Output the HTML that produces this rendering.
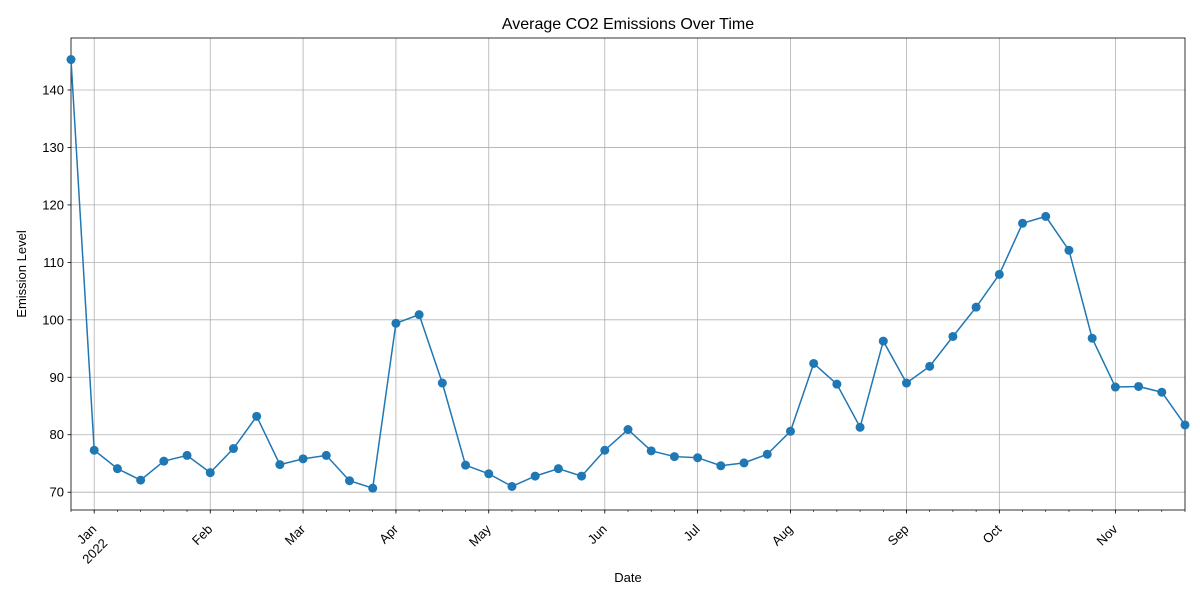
<!DOCTYPE html>
<html><head><meta charset="utf-8">
<style>
html,body{margin:0;padding:0;background:#fff;}
svg text{font-family:"Liberation Sans","DejaVu Sans",sans-serif;fill:#000;}
</style></head>
<body>
<svg id="chart" width="1200" height="600" viewBox="0 0 1200 600" xmlns="http://www.w3.org/2000/svg">
<rect width="1200" height="600" fill="#fff"/>
<text x="628" y="29" font-size="16" text-anchor="middle">Average CO2 Emissions Over Time</text>
<text x="628" y="582" font-size="13" text-anchor="middle">Date</text>
<text x="26" y="274" font-size="13" text-anchor="middle" transform="rotate(-90 26 274)">Emission Level</text>
<g id="grid"></g><g id="axes"></g><g id="series"></g>
</svg>
<script>
const values=[145.3,77.3,74.1,72.1,75.4,76.4,73.4,77.6,83.2,74.8,75.8,76.4,72.0,70.7,99.4,100.9,89.0,74.7,73.2,71.0,72.8,74.1,72.8,77.3,80.9,77.2,76.2,76.0,74.6,75.1,76.6,80.6,92.4,88.8,81.3,96.3,89.0,91.9,97.1,102.2,107.9,116.8,118.0,112.1,96.8,88.3,88.4,87.4,81.7];
const monthLabels=["Jan","Feb","Mar","Apr","May","Jun","Jul","Aug","Sep","Oct","Nov"];
const monthIndex=[1,6,10,14,18,23,27,31,36,40,45];
const yTicks=[70,80,90,100,110,120,130,140];
const L=71,R=1185,T=38,B=510;
const n=values.length;
const xs=i=>L+(R-L)*i/(n-1);
const ymin=66.9,ymax=149.05;
const ys=v=>B-(B-T)*(v-ymin)/(ymax-ymin);
const NS="http://www.w3.org/2000/svg";
function mk(tag,attrs,parent,txt){const e=document.createElementNS(NS,tag);for(const k in attrs)e.setAttribute(k,attrs[k]);if(txt!==undefined)e.textContent=txt;document.getElementById(parent).appendChild(e);return e;}
yTicks.forEach(v=>{const y=ys(v);
 const g=mk('line',{x1:L,x2:R,y1:y,y2:y,stroke:'#b0b0b0','stroke-width':0.8},'grid');
 
 
 mk('line',{x1:L-3.5,x2:L,y1:y,y2:y,stroke:'#000','stroke-width':0.8},'axes');
 const t=mk('text',{x:L-7,y:y+4.5,'font-size':13,'text-anchor':'end'},'axes',v);
 
 
});
for(let i=0;i<n;i++){mk('line',{x1:xs(i),x2:xs(i),y1:B,y2:B+2,stroke:'#000','stroke-width':0.6},'axes');}
monthIndex.forEach((idx,k)=>{const x=xs(idx);
 const g=mk('line',{x1:x,x2:x,y1:T,y2:B,stroke:'#b0b0b0','stroke-width':0.8},'grid');
 
 
 mk('line',{x1:x,x2:x,y1:B,y2:B+3.5,stroke:'#000','stroke-width':0.8},'axes');
 const ax=x+3, ay=B+20;
 const t=mk('text',{x:ax,y:ay,'font-size':13,'text-anchor':'end',transform:`rotate(-45 ${ax} ${ay})`},'axes',monthLabels[k]);
 
 
 if(k===0){const bx=x+14, by=B+34;
  const y2=mk('text',{x:bx,y:by,'font-size':13,'text-anchor':'end',transform:`rotate(-45 ${bx} ${by})`},'axes','2022');
  
  }
});
const frame=mk('rect',{x:L,y:T,width:R-L,height:B-T,fill:'none',stroke:'#000','stroke-width':0.8},'axes');


const line=mk('polyline',{points:values.map((v,i)=>xs(i)+','+ys(v)).join(' '),fill:'none',stroke:'#1f77b4','stroke-width':1.5},'series');


values.forEach((v,i)=>{const c=mk('circle',{cx:xs(i),cy:ys(v),r:4.5,fill:'#1f77b4'},'series');
 
 });
</script>
</body></html>
